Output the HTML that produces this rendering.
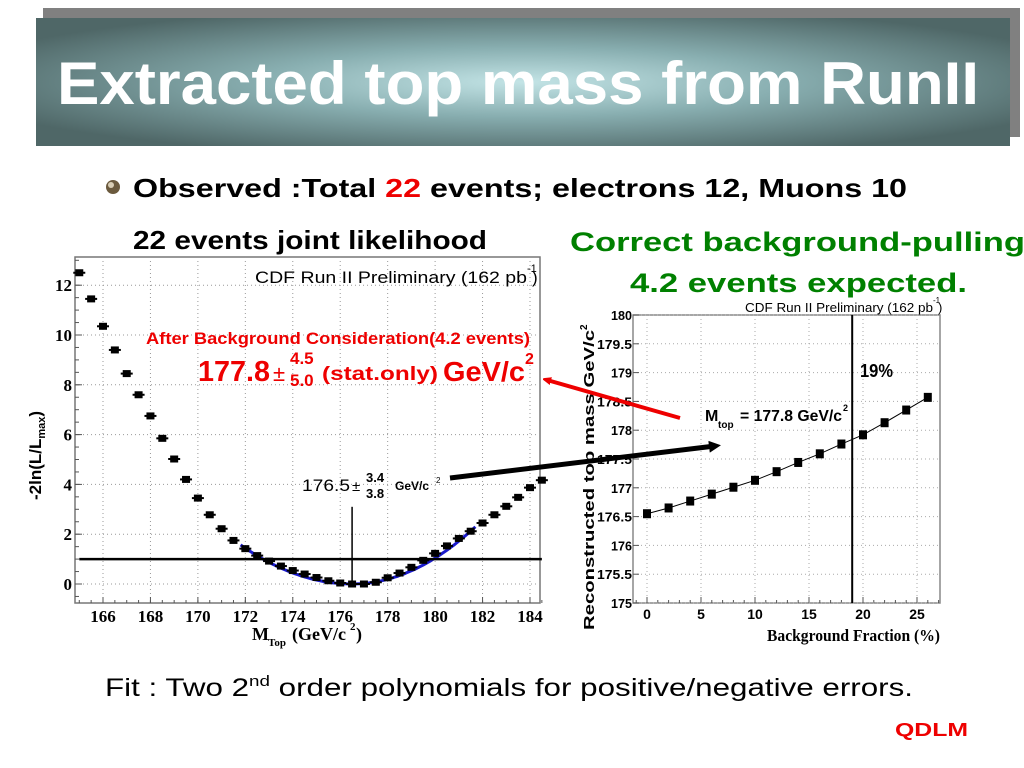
<!DOCTYPE html>
<html><head><meta charset="utf-8"><style>
html,body{margin:0;padding:0;background:#fff;}
svg{display:block;}
text{font-family:"Liberation Sans",sans-serif;}
.tm{font-family:"Liberation Serif",serif;font-weight:bold;}
</style></head><body>
<svg id="slide" width="1024" height="768" viewBox="0 0 1024 768">
<defs>
<radialGradient id="bg" cx="0.5" cy="0.5" r="0.6">
<stop offset="0" stop-color="#c3e4e6"/><stop offset="0.45" stop-color="#88aeb0"/><stop offset="1" stop-color="#4f6767"/>
</radialGradient>
<marker id="ahr" markerWidth="8" markerHeight="8" refX="4" refY="4" orient="auto" markerUnits="userSpaceOnUse"><path d="M0,0 L10,4 L0,8 Z" fill="#e00"/></marker>
<marker id="ahk" markerWidth="12" markerHeight="12" refX="6" refY="6" orient="auto" markerUnits="userSpaceOnUse"><path d="M0,0 L12,6 L0,12 Z" fill="#000"/></marker>
</defs>
<rect x="43" y="8" width="977" height="129" fill="#808080"/>
<rect x="36" y="18" width="974" height="128" fill="url(#bg)"/>
<text x="57" y="104" font-size="60" font-weight="bold" fill="#fff" textLength="922" lengthAdjust="spacingAndGlyphs">Extracted top mass from RunII</text>

<circle cx="113" cy="187" r="7" fill="#6b5a3e"/>
<circle cx="111" cy="185" r="3" fill="#d8cdb5"/>
<text x="133" y="197" font-size="26" font-weight="bold" textLength="774" lengthAdjust="spacingAndGlyphs">Observed  :Total <tspan fill="#e00">22</tspan> events; electrons 12, Muons 10</text>
<text x="133" y="249" font-size="26" font-weight="bold" textLength="354" lengthAdjust="spacingAndGlyphs">22 events joint likelihood</text>
<text x="570" y="251" font-size="27" font-weight="bold" fill="#008000" textLength="455" lengthAdjust="spacingAndGlyphs">Correct background-pulling</text>
<text x="630" y="292" font-size="27" font-weight="bold" fill="#008000" textLength="337" lengthAdjust="spacingAndGlyphs">4.2 events expected.</text>

<g id="left"></g>
<g id="right"></g>

<line x1="680" y1="418" x2="547" y2="380" stroke="#e00" stroke-width="4" marker-end="url(#ahr)"/>
<line x1="450" y1="478" x2="715" y2="446" stroke="#000" stroke-width="5" marker-end="url(#ahk)"/>

<text x="105" y="696" font-size="25" textLength="808" lengthAdjust="spacingAndGlyphs">Fit : Two 2<tspan font-size="15" dy="-10">nd</tspan><tspan dy="10"> order polynomials for positive/negative errors.</tspan></text>
<text x="895" y="736" font-size="18" font-weight="bold" fill="#e00" textLength="73" lengthAdjust="spacingAndGlyphs">QDLM</text>
</svg>
<script>
// ---- left chart data ----
const massPoints = [165,165.5,166,166.5,167,167.5,168,168.5,169,169.5,170,170.5,171,171.5,172,172.5,173,173.5,174,174.5,175,175.5,176,176.5,177,177.5,178,178.5,179,179.5,180,180.5,181,181.5,182,182.5,183,183.5,184,184.5];
const nllValues = [12.5,11.45,10.35,9.4,8.45,7.6,6.75,5.85,5.02,4.2,3.45,2.78,2.22,1.75,1.42,1.14,0.92,0.72,0.54,0.4,0.26,0.13,0.04,0,0,0.07,0.25,0.44,0.67,0.95,1.23,1.53,1.83,2.12,2.45,2.78,3.12,3.48,3.87,4.17];
const leftXTicks = [166,168,170,172,174,176,178,180,182,184];
const leftYTicks = [0,2,4,6,8,10,12];
const fitMin = 176.5, fitLeftCoef = 0.071, fitRightCoef = 0.085;
// ---- right chart data ----
const bgFraction = [0,2,4,6,8,10,12,14,16,18,20,22,24,26];
const recoMass = [176.55,176.65,176.77,176.89,177.01,177.13,177.28,177.44,177.59,177.76,177.92,178.13,178.35,178.57];
const rightXTicks = [0,5,10,15,20,25];
const rightYTicks = [175,175.5,176,176.5,177,177.5,178,178.5,179,179.5,180];
const bgCut = 19;

const NS="http://www.w3.org/2000/svg";
function mk(parent,tag,attrs,txt){const e=document.createElementNS(NS,tag);for(const k in attrs)e.setAttribute(k,attrs[k]);if(txt!==undefined)e.textContent=txt;parent.appendChild(e);return e;}

// LEFT
(function(){
const g=document.getElementById('left');
const L=75,R=540,T=257,B=603;
const xs=v=>103+(v-166)*(427/18);
const ys=v=>584-v*24.9;
mk(g,'rect',{x:L,y:T,width:R-L,height:B-T,fill:'#fff',stroke:'#777','stroke-width':1.5});
leftXTicks.forEach(t=>{
 const gl=mk(g,'line',{x1:xs(t),x2:xs(t),y1:T,y2:B,stroke:'#999','stroke-dasharray':'1,3'});
 
 
 mk(g,'line',{x1:xs(t),x2:xs(t),y1:B,y2:B-6,stroke:'#555'});
 const tl=mk(g,'text',{x:xs(t),y:622,'font-size':17,'text-anchor':'middle',class:'tm'},String(t));
 
 
});
for(let t=165;t<=184.5;t+=0.5){mk(g,'line',{x1:xs(t),x2:xs(t),y1:B,y2:B-3,stroke:'#555'});}
leftYTicks.forEach(t=>{
 const gl=mk(g,'line',{x1:L,x2:R,y1:ys(t),y2:ys(t),stroke:'#999','stroke-dasharray':'1,3'});
 
 
 mk(g,'line',{x1:L,x2:L+7,y1:ys(t),y2:ys(t),stroke:'#555'});
 const tl=mk(g,'text',{x:72,y:ys(t)+6,'font-size':17,'text-anchor':'end',class:'tm'},String(t));
 
 
});
for(let t=-0.5;t<=13;t+=0.5){if(ys(t)>T&&ys(t)<B)mk(g,'line',{x1:L,x2:L+4,y1:ys(t),y2:ys(t),stroke:'#555'});}
let d='';
for(let m=171.8;m<=181.7;m+=0.1){const c=m<fitMin?fitLeftCoef:fitRightCoef;const v=c*(m-fitMin)*(m-fitMin);d+=(d?'L':'M')+xs(m).toFixed(1)+','+ys(v).toFixed(1);}
const fc=mk(g,'path',{d:d,fill:'none',stroke:'#1a1acc','stroke-width':3});


const hl=mk(g,'line',{x1:xs(165),x2:xs(184.5),y1:ys(1),y2:ys(1),stroke:'#000','stroke-width':2.5});


const vl=mk(g,'line',{x1:xs(fitMin),x2:xs(fitMin),y1:ys(0),y2:ys(3.1),stroke:'#000','stroke-width':1.5});


massPoints.forEach((m,i)=>{
 const p=mk(g,'rect',{x:xs(m)-4,y:ys(nllValues[i])-3.5,width:8,height:7,fill:'#000'});
 
 
 mk(g,'line',{x1:xs(m)-6,x2:xs(m)+6,y1:ys(nllValues[i]),y2:ys(nllValues[i]),stroke:'#000','stroke-width':2});
});
const ti=mk(g,'text',{x:255,y:283,'font-size':17,textLength:272,lengthAdjust:'spacingAndGlyphs'},'CDF Run II Preliminary (162 pb');


mk(g,'text',{x:527,y:272,'font-size':11},'-1');
mk(g,'text',{x:532,y:283,'font-size':17},')');
const a1=mk(g,'text',{x:146,y:344,'font-size':17,'font-weight':'bold',fill:'#e00',textLength:384,lengthAdjust:'spacingAndGlyphs'},'After Background Consideration(4.2 events)');


const r1=mk(g,'text',{x:198,y:381,'font-size':29,'font-weight':'bold',fill:'#e00',textLength:72,lengthAdjust:'spacingAndGlyphs'},'177.8');


mk(g,'text',{x:273,y:381,'font-size':22,fill:'#e00'},'±');
mk(g,'text',{x:290,y:364,'font-size':17,'font-weight':'bold',fill:'#e00'},'4.5');
mk(g,'text',{x:290,y:386,'font-size':17,'font-weight':'bold',fill:'#e00'},'5.0');
mk(g,'text',{x:322,y:380,'font-size':19,'font-weight':'bold',fill:'#e00',textLength:116,lengthAdjust:'spacingAndGlyphs'},'(stat.only)');
mk(g,'text',{x:443,y:381,'font-size':28,'font-weight':'bold',fill:'#e00',textLength:82,lengthAdjust:'spacingAndGlyphs'},'GeV/c');
mk(g,'text',{x:525,y:364,'font-size':16,'font-weight':'bold',fill:'#e00'},'2');
const b1=mk(g,'text',{x:302,y:491,'font-size':17,textLength:48,lengthAdjust:'spacingAndGlyphs'},'176.5');


mk(g,'text',{x:352,y:491,'font-size':15},'±');
mk(g,'text',{x:366,y:482,'font-size':13,'font-weight':'bold'},'3.4');
mk(g,'text',{x:366,y:498,'font-size':13,'font-weight':'bold'},'3.8');
mk(g,'text',{x:395,y:490,'font-size':12,'font-weight':'bold'},'GeV/c');
mk(g,'text',{x:436,y:483,'font-size':8},'2');
const xt=mk(g,'text',{x:252,y:640,'font-size':18,class:'tm'},'M');


mk(g,'text',{x:268,y:646,'font-size':11,class:'tm'},'Top');
mk(g,'text',{x:292,y:640,'font-size':18,class:'tm'},'(GeV/c');
mk(g,'text',{x:350,y:630,'font-size':11,class:'tm'},'2');
mk(g,'text',{x:356,y:640,'font-size':18,class:'tm'},')');
const yt=mk(g,'text',{x:0,y:0,'font-size':17,'font-weight':'bold',transform:'translate(41,500) rotate(-90)'});


mk(yt,'tspan',{},'-2ln(L/L');
mk(yt,'tspan',{'font-size':11,dy:4},'max');
mk(yt,'tspan',{dy:-4},')');
})();

// RIGHT
(function(){
const g=document.getElementById('right');
const L=633,R=940,T=315,B=603;
const xs=v=>647+v*10.8;
const ys=v=>603-(v-175)*57.6;
mk(g,'rect',{x:L,y:T,width:R-L,height:B-T,fill:'#fff',stroke:'#888','stroke-width':1.5});
rightXTicks.forEach(t=>{
 const gl=mk(g,'line',{x1:xs(t),x2:xs(t),y1:T,y2:B,stroke:'#aaa','stroke-dasharray':'1,3'});
 
 
 mk(g,'line',{x1:xs(t),x2:xs(t),y1:B,y2:B-6,stroke:'#555'});
 const tl=mk(g,'text',{x:xs(t),y:619,'font-size':14,'font-weight':'bold','text-anchor':'middle'},String(t));
 
 
});
for(let t=-1;t<=27;t++){if(xs(t)>L&&xs(t)<R)mk(g,'line',{x1:xs(t),x2:xs(t),y1:B,y2:B-3,stroke:'#555'});}
rightYTicks.forEach(t=>{
 const gl=mk(g,'line',{x1:L,x2:R,y1:ys(t),y2:ys(t),stroke:'#aaa','stroke-dasharray':'1,3'});
 
 
 mk(g,'line',{x1:L,x2:L+6,y1:ys(t),y2:ys(t),stroke:'#555'});
 const tl=mk(g,'text',{x:632,y:ys(t)+5,'font-size':13,'font-weight':'bold','text-anchor':'end',textLength:String(t).length*7,lengthAdjust:'spacingAndGlyphs'},String(t));
 
 
});
let d='';
bgFraction.forEach((f,i)=>{d+=(i?'L':'M')+xs(f)+','+ys(recoMass[i]);});
const ln=mk(g,'path',{d:d,fill:'none',stroke:'#000','stroke-width':1});


const cut=mk(g,'line',{x1:xs(bgCut),x2:xs(bgCut),y1:T,y2:B,stroke:'#000','stroke-width':2});


bgFraction.forEach((f,i)=>{
 const p=mk(g,'rect',{x:xs(f)-4,y:ys(recoMass[i])-4.5,width:8,height:9,fill:'#000'});
 
 
});
const c=mk(g,'text',{x:745,y:312,'font-size':13,textLength:188,lengthAdjust:'spacingAndGlyphs'},'CDF Run II Preliminary (162 pb');


mk(g,'text',{x:933,y:303,'font-size':8},'-1');
mk(g,'text',{x:938,y:312,'font-size':13},')');
mk(g,'text',{x:860,y:377,'font-size':18,'font-weight':'bold',textLength:33,lengthAdjust:'spacingAndGlyphs'},'19%');
const m=mk(g,'text',{x:705,y:421,'font-size':16,'font-weight':'bold'},'M');


mk(g,'text',{x:718,y:428,'font-size':10,'font-weight':'bold'},'top');
mk(g,'text',{x:740,y:421,'font-size':16,'font-weight':'bold',textLength:102,lengthAdjust:'spacingAndGlyphs'},'= 177.8 GeV/c');
mk(g,'text',{x:843,y:411,'font-size':9,'font-weight':'bold'},'2');
const xt=mk(g,'text',{x:767,y:641,'font-size':17,class:'tm',textLength:173,lengthAdjust:'spacingAndGlyphs'},'Background Fraction (%)');


const yt=mk(g,'text',{x:0,y:0,'font-size':15,'font-weight':'bold',transform:'translate(594,630) rotate(-90)'});


mk(yt,'tspan',{textLength:300,lengthAdjust:'spacingAndGlyphs'},'Reconstructed top mass GeV/c');
mk(yt,'tspan',{'font-size':10,dy:-7},'2');
})();
</script>
</body></html>
